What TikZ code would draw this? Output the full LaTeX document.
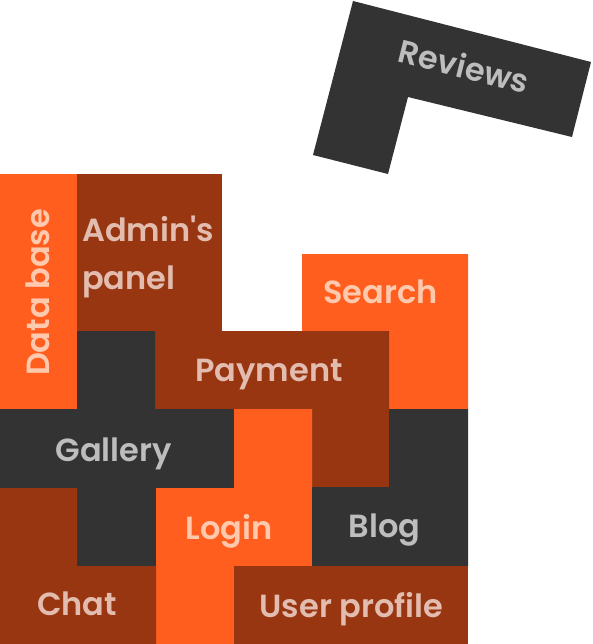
\documentclass[tikz,border=0pt]{standalone}
\usepackage{fontspec}
\setmainfont{Poppins SemiBold}
\definecolor{cOrange}{HTML}{FF5E1F}
\definecolor{cBrown}{HTML}{993612}
\definecolor{cDark}{HTML}{333333}
\definecolor{tOrange}{HTML}{FFC9AE}
\definecolor{tBrown}{HTML}{E2BDAF}
\definecolor{tDark}{HTML}{BDBDBD}
\tikzset{
  pOrange/.style={fill=cOrange},
  pBrown/.style={fill=cBrown},
  pDark/.style={fill=cDark},
  lbl/.style={inner sep=0pt, anchor=base, font=\fontsize{32}{38}\selectfont},
  lOrange/.style={lbl, text=tOrange},
  lBrown/.style={lbl, text=tBrown},
  lDark/.style={lbl, text=tDark},
}
\begin{document}
\begin{tikzpicture}[x=1pt,y=-1pt]
\useasboundingbox (0,0) rectangle (592,644);
% Reviews (rotated L)
\fill[pDark] (353,1) -- (591,62) -- (572,137) -- (408,97) -- (388,174) -- (313,155) -- cycle;
\node[lDark, rotate=-14] (reviews) at (461,78) {Reviews};
% Data base
\fill[pOrange] (0,174) rectangle (77,410);
\node[lOrange, rotate=90] (database) at (49,292.5) {Data base};
% Admin's panel
\fill[pBrown] (77,174) rectangle (222,331);
\node[lBrown, anchor=base west] (admin1) at (82,241) {Admin\textquotesingle s};
\node[lBrown, anchor=base west] (admin2) at (82,289) {panel};
% Search
\fill[pOrange] (302,254) -- (468,254) -- (468,409) -- (389,409) -- (389,331) -- (302,331) -- cycle;
\node[lOrange] (search) at (380.5,303) {Search};
% Payment
\fill[pBrown] (155,331) -- (389,331) -- (389,487) -- (312,487) -- (312,409) -- (155,409) -- cycle;
\node[lBrown] (payment) at (269,381) {Payment};
% Gallery
\fill[pDark] (77,331) -- (155,331) -- (155,409) -- (234,409) -- (234,488) -- (156,488) -- (156,566) -- (77,566) -- (77,488) -- (0,488) -- (0,409) -- (77,409) -- cycle;
\node[lDark] (gallery) at (113.5,461) {Gallery};
% Login
\fill[pOrange] (234,409) -- (312,409) -- (312,566) -- (234,566) -- (234,644) -- (156,644) -- (156,488) -- (234,488) -- cycle;
\node[lOrange] (login) at (229,539) {Login};
% Blog
\fill[pDark] (389,409) -- (468,409) -- (468,566) -- (312,566) -- (312,487) -- (389,487) -- cycle;
\node[lDark] (blog) at (384.5,537) {Blog};
% Chat
\fill[pBrown] (0,488) -- (77,488) -- (77,566) -- (156,566) -- (156,644) -- (0,644) -- cycle;
\node[lBrown] (chat) at (77,615) {Chat};
% User profile
\fill[pBrown] (234,566) rectangle (468,644);
\node[lBrown] (userprofile) at (351.5,617) {User profile};
\end{tikzpicture}
\end{document}
